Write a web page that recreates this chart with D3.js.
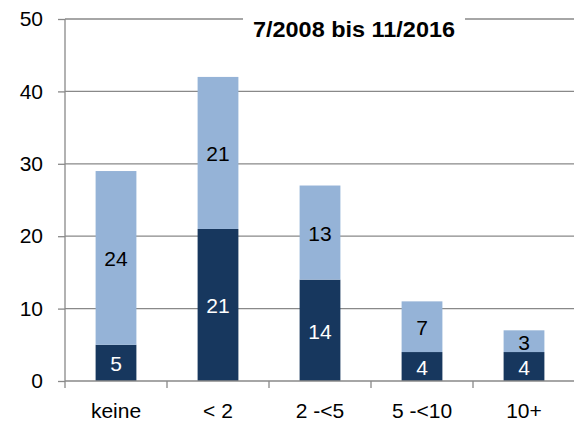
<!DOCTYPE html>
<html>
<head>
<meta charset="utf-8">
<script src="https://cdn.jsdelivr.net/npm/d3@7"></script>
<style>
  body { margin: 0; background: #fff; }
  svg { font-family: "Liberation Sans", Arial, sans-serif; }
</style>
</head>
<body>
<div id="chart"></div>
<script>
// Chart data
const categories = ['keine', '< 2', '2 -<5', '5 -<10', '10+'];
const darkValues = [5, 21, 14, 4, 4];
const lightValues = [24, 21, 13, 7, 3];
const yTicks = [0, 10, 20, 30, 40, 50];
const title = '7/2008 bis 11/2016';

const width = 574;
const height = 423;
const margin = { left: 65, right: -1, top: 19, bottom: 42 };
const fontSize = 21;

const svg = d3.select('#chart')
    .append('svg')
    .attr('width', width)
    .attr('height', height);

const xScale = d3.scaleBand()
    .domain(categories)
    .range([margin.left, width - margin.right])
    .paddingInner(0.6)
    .paddingOuter(0.3);

const yScale = d3.scaleLinear()
    .domain([0, 50])
    .range([height - margin.bottom, margin.top]);

// Gridlines
svg.append('g')
    .selectAll('line')
    .data(yTicks.filter(d => d > 0))
    .enter()
    .append('line')
    .attr('x1', margin.left)
    .attr('x2', width)
    .attr('y1', d => yScale(d))
    .attr('y2', d => yScale(d))
    .attr('stroke', '#898989')
    .attr('stroke-width', 1.3);

// Stacked bars
const rows = categories.map((c, i) => ({ cat: c, dark: darkValues[i], light: lightValues[i] }));

const bars = svg.append('g');
bars.selectAll('.dark')
    .data(rows)
    .enter()
    .append('rect')
    .attr('x', d => xScale(d.cat))
    .attr('y', d => yScale(d.dark))
    .attr('width', xScale.bandwidth())
    .attr('height', d => yScale(0) - yScale(d.dark))
    .attr('fill', '#17375e');

bars.selectAll('.light')
    .data(rows)
    .enter()
    .append('rect')
    .attr('x', d => xScale(d.cat))
    .attr('y', d => yScale(d.dark + d.light))
    .attr('width', xScale.bandwidth())
    .attr('height', d => yScale(d.dark) - yScale(d.dark + d.light))
    .attr('fill', '#95b3d7');

// Segment labels
bars.selectAll('.dlab')
    .data(rows)
    .enter()
    .append('text')
    .attr('x', d => xScale(d.cat) + xScale.bandwidth() / 2)
    .attr('y', d => yScale(d.dark / 2))
    .attr('dy', '0.4em')
    .attr('text-anchor', 'middle')
    .attr('font-size', fontSize)
    .attr('fill', '#fff')
    .text(d => d.dark);

bars.selectAll('.llab')
    .data(rows)
    .enter()
    .append('text')
    .attr('x', d => xScale(d.cat) + xScale.bandwidth() / 2)
    .attr('y', d => yScale(d.dark + d.light / 2))
    .attr('dy', '0.4em')
    .attr('text-anchor', 'middle')
    .attr('font-size', fontSize)
    .attr('fill', '#000')
    .text(d => d.light);

// Y axis
const yAxis = svg.append('g')
    .attr('transform', `translate(${margin.left},0)`)
    .call(d3.axisLeft(yScale).tickValues(yTicks).tickSize(7).tickPadding(15));
yAxis.selectAll('line, path').attr('stroke', '#898989').attr('stroke-width', 1.3);
yAxis.select('path').attr('d', `M0,${yScale(50)}V${yScale(0)}`);
yAxis.selectAll('text')
    .attr('font-size', fontSize)
    .attr('fill', '#000')
    .attr('font-family', '"Liberation Sans", Arial, sans-serif');

// X axis
const xAxis = svg.append('g')
    .attr('transform', `translate(0,${yScale(0)})`)
    .call(d3.axisBottom(xScale).tickSize(0).tickPadding(22));
xAxis.select('path').attr('stroke', '#898989').attr('stroke-width', 1.3)
    .attr('d', `M${margin.left},0H${width}`);
xAxis.selectAll('text')
    .attr('font-size', fontSize)
    .attr('fill', '#000')
    .attr('font-family', '"Liberation Sans", Arial, sans-serif');

// Category boundary ticks
const step = xScale.step();
const bounds = categories.map(c => xScale(c) - (step - xScale.bandwidth()) / 2);
xAxis.selectAll('.bt')
    .data(bounds)
    .enter()
    .append('line')
    .attr('x1', d => d)
    .attr('x2', d => d)
    .attr('y1', 0)
    .attr('y2', 7)
    .attr('stroke', '#898989')
    .attr('stroke-width', 1.3);

// Title box
const tx = 354;
svg.append('rect')
    .attr('x', tx - 111)
    .attr('y', 8)
    .attr('width', 222)
    .attr('height', 34)
    .attr('fill', '#fff');
svg.append('text')
    .attr('x', tx)
    .attr('y', 37)
    .attr('text-anchor', 'middle')
    .attr('font-size', 22)
    .attr('font-weight', 'bold')
    .attr('textLength', 202)
    .attr('lengthAdjust', 'spacingAndGlyphs')
    .text(title);
</script>
</body>
</html>
